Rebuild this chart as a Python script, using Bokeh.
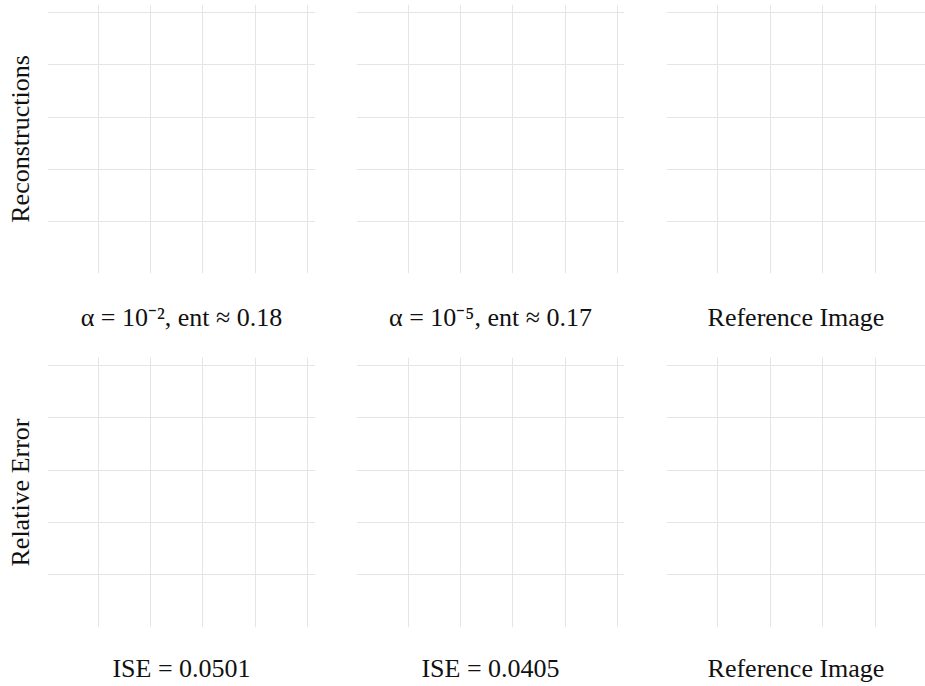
from bokeh.plotting import figure
from bokeh.models import Range1d, FixedTicker
from bokeh.layouts import row, column
from bokeh.embed import file_html
from bokeh.resources import INLINE

# ---- data (texts and tick positions) ----
top_titles = ["α = 10⁻², ent ≈ 0.18", "α = 10⁻⁵, ent ≈ 0.17", "Reference Image"]
bottom_titles = ["ISE = 0.0501", "ISE = 0.0405", "Reference Image"]
row_labels = ["Reconstructions", "Relative Error"]
grid_ticks = [50, 100, 150, 200, 250]

# ---- layout / style ----
FONT = "Liberation Serif"
FS = "26px"
GRID = "#e5e5e5"
TXT = "#111111"

col_x_ranges = [(1.2, 257.7), (0.24, 256.7), (1.2, 248.0)]
col_frame_w = [268, 268, 259]
col_border_l = [47, 41, 42]
row_y_ranges = [(0.24, 257.7), (-0.7, 257.7)]
row_frame_h = [269, 270]
row_border_t = [4, 0]
row_border_b = [84, 58]
row_label_standoff = [29, 26]


def style_axis(ax, label, standoff):
    ax.ticker = FixedTicker(ticks=[])
    ax.axis_line_color = None
    ax.major_tick_line_color = None
    ax.minor_tick_line_color = None
    ax.major_label_text_font_size = "0px"
    ax.major_label_standoff = 0
    ax.major_tick_out = 0
    ax.major_tick_in = 0
    ax.axis_label = label
    ax.axis_label_standoff = standoff
    ax.axis_label_text_font = FONT
    ax.axis_label_text_font_size = FS
    ax.axis_label_text_font_style = "normal"
    ax.axis_label_text_color = TXT


def panel(ci, ri, title_text):
    p = figure(
        width=col_frame_w[ci] + col_border_l[ci],
        height=row_frame_h[ri] + row_border_b[ri] + row_border_t[ri],
        x_range=Range1d(*col_x_ranges[ci]),
        y_range=Range1d(*row_y_ranges[ri]),
        output_backend="svg",
        toolbar_location=None,
        min_border_left=col_border_l[ci],
        min_border_right=0,
        min_border_top=row_border_t[ri],
        min_border_bottom=row_border_b[ri],
        outline_line_color=None,
        title=None,
    )
    p.xgrid.ticker = FixedTicker(ticks=grid_ticks)
    p.ygrid.ticker = FixedTicker(ticks=grid_ticks)
    for g in (p.xgrid, p.ygrid):
        g.grid_line_color = GRID
        g.grid_line_width = 1
    style_axis(p.xaxis[0], title_text, row_label_standoff[ri])
    if ci == 0:
        style_axis(p.yaxis[0], row_labels[ri], 13)
    else:
        p.yaxis.visible = False
    p.background_fill_color = "white"
    p.border_fill_color = "white"
    return p


top = [panel(i, 0, t) for i, t in enumerate(top_titles)]
bot = [panel(i, 1, t) for i, t in enumerate(bottom_titles)]

layout = column(row(*top, spacing=0), row(*bot, spacing=0), spacing=0)

open("out.html", "w").write(file_html(layout, INLINE))
